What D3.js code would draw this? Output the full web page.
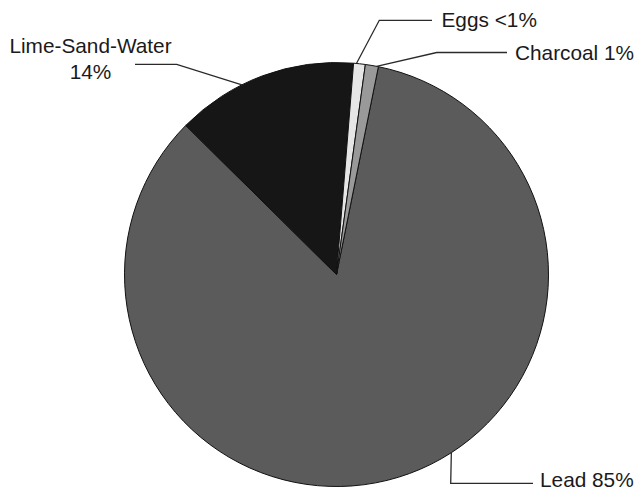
<!DOCTYPE html>
<html>
<head>
<meta charset="utf-8">
<script src="https://cdn.jsdelivr.net/npm/d3@7"></script>
<style>
  html, body { margin: 0; padding: 0; background: #fff; }
  svg { display: block; }
  text { font-family: "Liberation Sans", Arial, sans-serif; fill: #1a1a1a; }
</style>
</head>
<body>
<svg id="chart" width="638" height="490"></svg>
<script>
// Material shares (percent), listed clockwise starting from Lead
const categories = ["Lead", "Lime-Sand-Water", "Eggs", "Charcoal"];
const values = [85, 14, 0.9, 1];
const labelLines = [["Lead 85%"], ["Lime-Sand-Water", "14%"], ["Eggs <1%"], ["Charcoal 1%"]];
const fills = ["#5b5b5b", "#161616", "#e6e6e6", "#999999"];

const width = 638, height = 490;
const cx = 336.5, cy = 274.5, radius = 212;
const startDeg = 11.4;

const svg = d3.select("#chart");
const g = svg.append("g").attr("transform", `translate(${cx},${cy})`);

const pie = d3.pie()
  .sort(null)
  .value(d => d)
  .startAngle(startDeg * Math.PI / 180)
  .endAngle(startDeg * Math.PI / 180 + 2 * Math.PI);

const arcs = pie(values);
const arc = d3.arc().innerRadius(0).outerRadius(radius);

g.selectAll("path.slice")
  .data(arcs)
  .join("path")
  .attr("class", "slice")
  .attr("d", arc)
  .attr("fill", (d, i) => fills[i])
  .attr("stroke", "#111")
  .attr("stroke-width", 1);

// Leader layout: anchor angle on the rim (deg, clockwise from top), elbow, end of line, text placement
const leaders = [
  { angle: 147.2, elbow: [450.7, 483.3], end: [533, 483.3], tx: 540, ty: 481, anchor: "start" },
  { angle: 333.5, elbow: [176.7, 64.3], end: [135, 64.3], tx: 90.5, ty: 47, anchor: "middle" },
  { angle: 5.4,   elbow: [379.3, 20.3], end: [432, 20.3], tx: 441.5, ty: 21, anchor: "start" },
  { angle: 10.9,  elbow: [436.7, 52.5], end: [507, 52.5], tx: 515, ty: 54, anchor: "start" }
];

const fontSize = 20.8;
const lineGap = 25.7;

leaders.forEach((L, i) => {
  const a = L.angle * Math.PI / 180;
  const p0 = [cx + radius * Math.sin(a), cy - radius * Math.cos(a)];
  svg.append("polyline")
    .attr("points", [p0, L.elbow, L.end].map(p => p.join(",")).join(" "))
    .attr("fill", "none")
    .attr("stroke", "#2a2a2a")
    .attr("stroke-width", 1.3);

  const t = svg.append("text")
    .attr("x", L.tx)
    .attr("y", L.ty)
    .attr("text-anchor", L.anchor)
    .attr("dominant-baseline", "middle")
    .style("font-size", fontSize + "px");
  labelLines[i].forEach((s, k) => {
    t.append("tspan")
      .attr("x", L.tx)
      .attr("dy", k === 0 ? 0 : lineGap)
      .text(s);
  });
});
</script>
</body>
</html>
